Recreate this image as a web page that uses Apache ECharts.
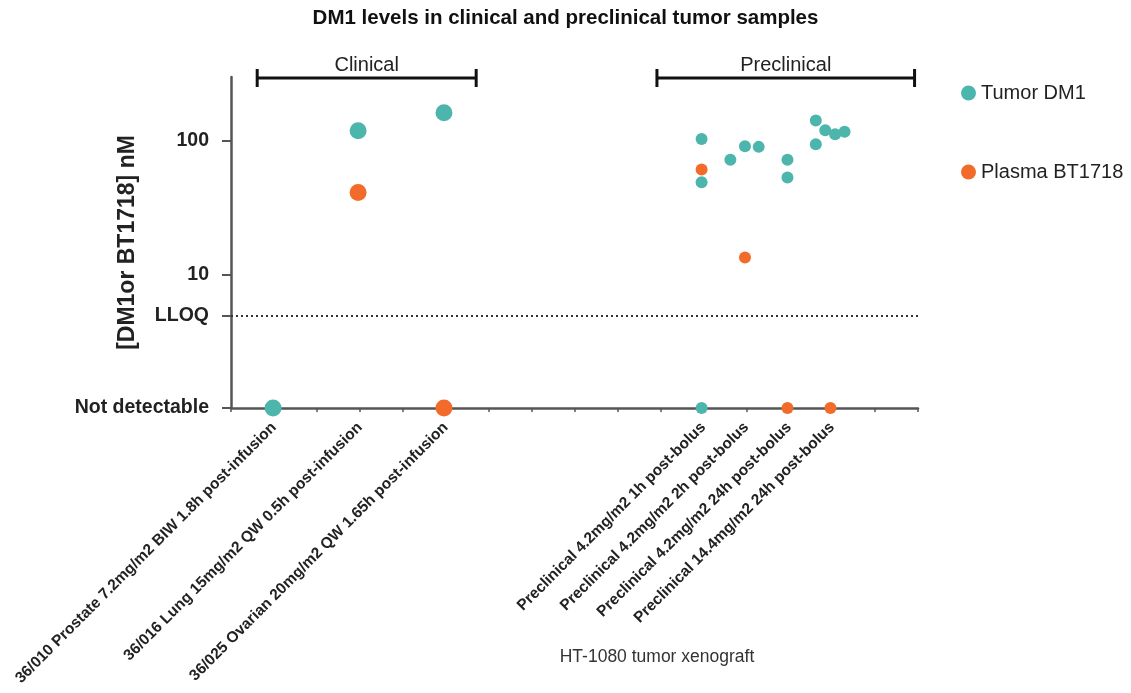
<!DOCTYPE html>
<html>
<head>
<meta charset="utf-8">
<script src="https://cdn.jsdelivr.net/npm/echarts@6/dist/echarts.min.js"></script>
<style>html,body{margin:0;padding:0;background:#fff;}#chart{width:1131px;height:693px;}</style>
</head>
<body>
<div id="chart"></div>
<script>
// ---- data ----
const categoryPositions = [1, 3, 5, 11, 12, 13, 14];
const categoryLabels = [
  '36/010 Prostate 7.2mg/m2 BIW 1.8h post-infusion',
  '36/016 Lung 15mg/m2 QW 0.5h post-infusion',
  '36/025 Ovarian 20mg/m2 QW 1.65h post-infusion',
  'Preclinical 4.2mg/m2 1h post-bolus',
  'Preclinical 4.2mg/m2 2h post-bolus',
  'Preclinical 4.2mg/m2 24h post-bolus',
  'Preclinical 14.4mg/m2 24h post-bolus'
];
const yTickValues = [1, 4.9, 10, 100];
const yTickLabels = ['Not detectable', 'LLOQ', '10', '100'];
const NOT_DETECTABLE = 1;
const LLOQ = 4.9;

// x = category position (with small jitter for replicate samples), y = nM ('ND' = not detectable)
const tumorX = [0.98, 2.96, 4.96, 10.96, 10.96, 10.96, 11.63, 11.97, 12.29, 12.96, 12.96, 13.62, 13.62, 13.84, 14.07, 14.29];
const tumorY = ['ND', 119, 162, 103, 49, 'ND', 72, 91, 90, 72, 53, 142, 94, 120, 112, 117];
const plasmaX = [2.96, 4.96, 10.96, 11.97, 12.96, 13.96];
const plasmaY = [41, 'ND', 61, 13.4, 'ND', 'ND'];

const groupNames = ['Clinical', 'Preclinical'];
const groupStart = [0.61, 9.92];
const groupEnd = [5.71, 15.92];

const xAxisTitle = 'HT-1080 tumor xenograft';

// ---- build ----
const toVal = v => (v === 'ND' ? NOT_DETECTABLE : v);
const tumorData = tumorX.map((x, i) => [x, toVal(tumorY[i])]);
const plasmaData = plasmaX.map((x, i) => [x, toVal(plasmaY[i])]);
const sizeFn = d => (d[0] < 8 ? 17 : 12);
const FONT = 'Liberation Sans, Arial, sans-serif';

const chart = echarts.init(document.getElementById('chart'));
chart.setOption({
  animation: false,
  backgroundColor: '#ffffff',
  textStyle: { fontFamily: FONT },
  title: {
    text: 'DM1 levels in clinical and preclinical tumor samples',
    left: 'center', top: 3,
    textStyle: { fontSize: 20.5, fontWeight: 'bold', color: '#111', fontFamily: FONT }
  },
  legend: {
    data: ['Tumor DM1', 'Plasma BT1718'],
    orient: 'vertical', left: 956, top: 78, itemGap: 59,
    icon: 'circle', itemWidth: 15, itemHeight: 15,
    textStyle: { fontSize: 20, lineHeight: 20, color: '#222', fontFamily: FONT }
  },
  grid: { left: 231, right: 213, top: 77, bottom: 285, containLabel: false },
  xAxis: {
    type: 'value', min: 0, max: 16, interval: 1,
    axisLine: { lineStyle: { color: '#555', width: 2.5 } },
    axisTick: { show: true, length: 4, lineStyle: { color: '#555', width: 1.5 } },
    splitLine: { show: false },
    axisLabel: {
      customValues: categoryPositions,
      rotate: 45, margin: 17,
      fontSize: 15.5, fontWeight: 'bold', color: '#222', fontFamily: FONT,
      formatter: v => {
        const i = categoryPositions.findIndex(p => Math.abs(p - v) < 1e-6);
        return i >= 0 ? categoryLabels[i] : '';
      }
    }
  },
  yAxis: {
    type: 'log', logBase: 10, min: 1, max: 300,
    name: '[DM1or BT1718] nM', nameLocation: 'middle', nameRotate: 90, nameGap: 92,
    nameMoveOverlap: false,
    nameTextStyle: { fontSize: 23, fontWeight: 'bold', color: '#222', fontFamily: FONT },
    axisLine: { show: true, lineStyle: { color: '#555', width: 2.5 } },
    axisTick: { show: true, length: 9, customValues: yTickValues, lineStyle: { color: '#555', width: 2 } },
    splitLine: { show: false },
    minorTick: { show: false },
    axisLabel: {
      customValues: yTickValues, margin: 22,
      fontSize: 19.5, fontWeight: 'bold', color: '#222', fontFamily: FONT,
      formatter: v => {
        const i = yTickValues.findIndex(p => Math.abs(p - v) / p < 1e-3);
        return i >= 0 ? yTickLabels[i] : '';
      }
    }
  },
  graphic: [{
    type: 'text', x: 657, y: 657,
    style: { text: xAxisTitle, fill: '#333', font: '17.5px ' + FONT, textAlign: 'center', textVerticalAlign: 'middle' }
  }],
  series: [
    {
      name: 'Tumor DM1', type: 'scatter', data: tumorData, symbolSize: sizeFn,
      itemStyle: { color: '#4db6ac', opacity: 1 }, clip: false, z: 5,
      markLine: {
        silent: true, symbol: ['none', 'none'],
        lineStyle: { type: [2, 3], color: '#333', width: 1.8 },
        label: { show: false },
        data: [{ yAxis: LLOQ }]
      }
    },
    {
      name: 'Plasma BT1718', type: 'scatter', data: plasmaData, symbolSize: sizeFn,
      itemStyle: { color: '#f26b2a', opacity: 1 }, clip: false, z: 6
    },
    {
      name: 'groups', type: 'custom', clip: false, silent: true,
      data: groupNames.map((n, i) => [groupStart[i], groupEnd[i], i]),
      encode: { x: [0, 1] },
      renderItem: (params, api) => {
        const a = api.coord([api.value(0), 300]);
        const b = api.coord([api.value(1), 300]);
        const y = a[1] + 1;
        const name = groupNames[api.value(2)];
        return {
          type: 'group',
          children: [
            { type: 'line', shape: { x1: a[0], y1: y, x2: b[0], y2: y }, style: { stroke: '#111', lineWidth: 3 } },
            { type: 'line', shape: { x1: a[0], y1: y - 9, x2: a[0], y2: y + 9 }, style: { stroke: '#111', lineWidth: 3 } },
            { type: 'line', shape: { x1: b[0], y1: y - 9, x2: b[0], y2: y + 9 }, style: { stroke: '#111', lineWidth: 3 } },
            { type: 'text', x: (a[0] + b[0]) / 2, y: y - 13,
              style: { text: name, textAlign: 'center', textVerticalAlign: 'middle', fill: '#222', font: '20px ' + FONT } }
          ]
        };
      }
    }
  ]
});
</script>
</body>
</html>
